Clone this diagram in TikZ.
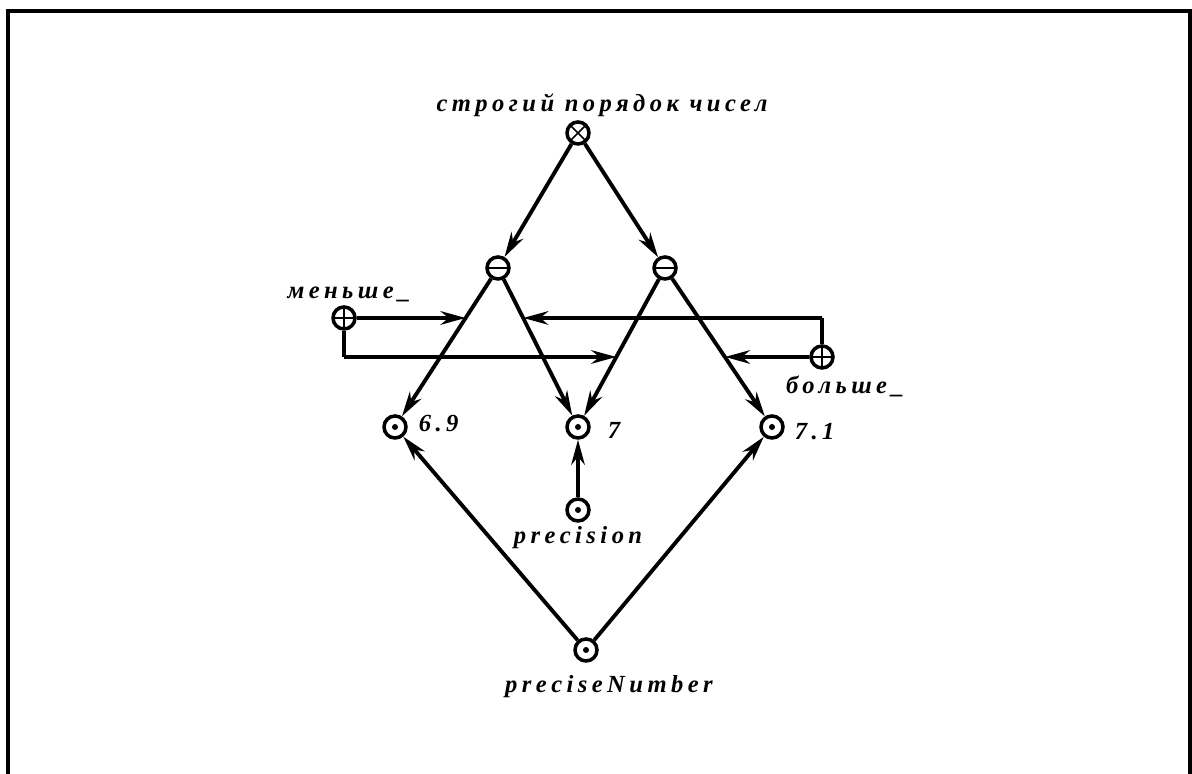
\documentclass[tikz,border=0pt]{standalone}
\usepackage{fontspec}
\setmainfont{Liberation Serif}
\newfontfamily\lblfont[LetterSpace=18]{Liberation Serif}
\usepackage{tikz}
\usetikzlibrary{calc, positioning, arrows.meta}

\tikzset{
  el/.style={circle, draw, line width=2pt, minimum size=0.44cm, inner sep=0pt},
  elx/.style={el, path picture={\draw[line width=0.9pt]
      (path picture bounding box.north west) -- (path picture bounding box.south east)
      (path picture bounding box.north east) -- (path picture bounding box.south west);}},
  elminus/.style={el, path picture={\draw[line width=1pt]
      (path picture bounding box.west) -- (path picture bounding box.east);}},
  elplus/.style={el, path picture={\draw[line width=0.9pt]
      (path picture bounding box.west) -- (path picture bounding box.east)
      (path picture bounding box.north) -- (path picture bounding box.south);}},
  eldot/.style={el, path picture={\fill (path picture bounding box.center) circle (0.06cm);}},
  lbl/.style={inner sep=1pt, font=\lblfont\bfseries\itshape\fontsize{14}{16}\selectfont},
  arr/.style={line width=2.2pt, -{Stealth[length=0.5cm, width=0.27cm, inset=0.16cm]}},
  wire/.style={line width=2.2pt}
}

\begin{document}
\begin{tikzpicture}
    \useasboundingbox (0,0) rectangle (23.84,15.48);
    % рамка
    \draw[line width=2pt] (0.16,0) -- (0.16,15.26) -- (23.80,15.26) -- (23.80,0);

    % вершины
    \node[elx] (top) at (11.56,12.82) {};
    \node[elminus] (lm) at (9.96,10.12) {};
    \node[elminus] (rm) at (13.30,10.12) {};
    \node[elplus] (mensh) at (6.88,9.12) {};
    \node[elplus] (bolsh) at (16.44,8.34) {};
    \node[eldot] (n69) at (7.90,6.94) {};
    \node[eldot] (n7) at (11.56,6.94) {};
    \node[eldot] (n71) at (15.44,6.94) {};
    \node[eldot] (prec) at (11.56,5.28) {};
    \node[eldot] (pnum) at (11.72,2.48) {};

    % подписи
    \node[lbl, anchor=south] (ttl) at ([xshift=0.48cm, yshift=0.02cm]top.north) {строгий порядок чисел};
    \node[lbl, above=0.02cm of mensh, xshift=0.1cm] (menshl) {меньше\_};
    \node[lbl, anchor=north west] (bolshl) at ([xshift=-0.76cm, yshift=-0.08cm]bolsh.south) {больше\_};
    \node[lbl, right=0.18cm of n69, yshift=0.06cm] (n69l) {6.9};
    \node[lbl, right=0.3cm of n7, yshift=-0.06cm] (n7l) {7};
    \node[lbl, right=0.16cm of n71, yshift=-0.1cm] (n71l) {7.1};
    \node[lbl, below=0.04cm of prec] (precl) {precision};
    \node[lbl, below=0.22cm of pnum, xshift=0.46cm] (pnuml) {preciseNumber};

    % дуги
    \draw[arr] (top) -- (lm);
    \draw[arr] (top) -- (rm);
    \draw[arr] (lm) -- (n69);
    \draw[arr] (lm) -- (n7);
    \draw[arr] (rm) -- (n7);
    \draw[arr] (rm) -- (n71);
    \draw[arr] (prec) -- (n7);
    \draw[arr] (pnum) -- (n69);
    \draw[arr] (pnum) -- (n71);

    % точки примыкания
    \coordinate (mr) at ($(mensh)+(12,0)$);
    \coordinate (br) at ($(bolsh)+(-12,0)$);
    \coordinate (hitA) at (intersection of lm--n69 and mensh--mr);
    \coordinate (hitB) at (intersection of lm--n7 and mensh--mr);
    \coordinate (hitC) at (intersection of rm--n7 and bolsh--br);
    \coordinate (hitD) at (intersection of rm--n71 and bolsh--br);
    \coordinate (mdown) at (mensh |- bolsh);
    \coordinate (bup) at (bolsh |- mensh);

    \draw[arr] (mensh) -- (hitA);
    \draw[wire] (mensh) -- (mdown);
    \draw[arr] (mdown) -- (hitC);
    \draw[arr] (bolsh) -- (hitD);
    \draw[wire] (bolsh) -- (bup);
    \draw[arr] (bup) -- (hitB);
\end{tikzpicture}
\end{document}
